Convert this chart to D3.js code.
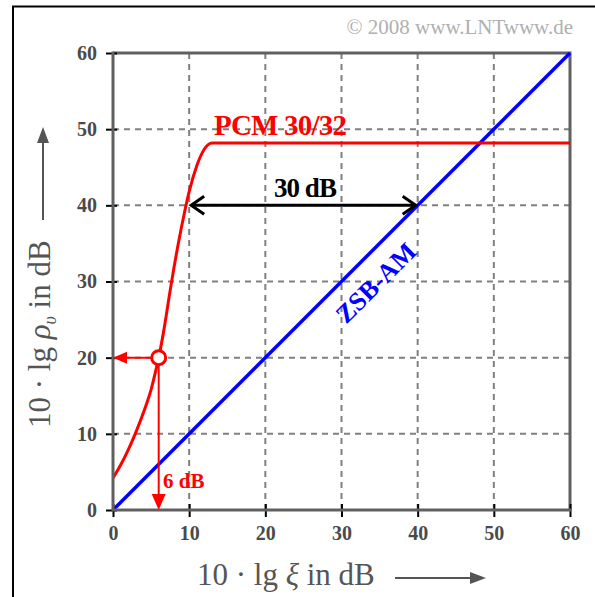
<!DOCTYPE html>
<html lang="de">
<head>
	<meta charset="UTF-8">
	<title>PCM 30/32 vs ZSB-AM</title>
	<script src="https://d3js.org/d3.v7.min.js"></script>
	<style type="text/css">
		body { margin: 0; background: #fff; }
		svg { display: block; font-family: "Liberation Serif", "DejaVu Serif", serif; }
		.tick text { font-family: "Liberation Serif", serif; font-weight: bold; font-size: 20px; fill: #4a4a4a; }
	</style>
</head>
<body>
<script type="text/javascript">

	// ticks
	var xTicks = [0, 10, 20, 30, 40, 50, 60];
	var yTicks = [0, 10, 20, 30, 40, 50, 60];

	// PCM 30/32 curve
	var pcmX = [0, 1, 2, 3, 4, 5, 5.5, 6, 6.5, 7, 7.5, 8, 8.5, 9, 9.5, 10, 11, 12, 13, 60];
	var pcmY = [4.2, 5.9, 7.9, 10.2, 12.8, 15.8, 17.8, 20, 22.6, 25.6, 28.8, 31.8, 34.6, 37.2, 39.6, 41.8, 45.2, 47.4, 48.2, 48.2];

	// ZSB-AM line
	var amX = [0, 60];
	var amY = [0, 60];

	// marked point and the 30 dB gap
	var markX = 6, markY = 20;
	var gapFrom = 10, gapTo = 40, gapLevel = 40;

	window.onload = function () {

		var W = 595, H = 597;
		var svg = d3.select('body').append('svg')
			.attr('width', W)
			.attr('height', H);

		var x = d3.scaleLinear().domain([0, 60]).range([113, 570]);
		var y = d3.scaleLinear().domain([0, 60]).range([510, 53]);

		// frame
		svg.append('path')
			.attr('d', 'M13,' + H + ' L13,6.5 L' + W + ',6.5')
			.style('fill', 'none').style('stroke', '#000').style('stroke-width', 2);

		// copyright
		svg.append('text')
			.attr('x', 573).attr('y', 34)
			.style('text-anchor', 'end')
			.style('font-size', '21px')
			.style('fill', '#b0b0b0')
			.text('\u00a9 2008 www.LNTwww.de');

		// grid
		var grid = svg.append('g')
			.style('stroke', '#808080').style('stroke-width', 2).style('stroke-dasharray', '6,5');
		grid.selectAll('.gx').data(xTicks.slice(1, -1)).enter().append('line')
			.attr('x1', function (d) { return x(d); }).attr('x2', function (d) { return x(d); })
			.attr('y1', y(0)).attr('y2', y(60));
		grid.selectAll('.gy').data(yTicks.slice(1, -1)).enter().append('line')
			.attr('y1', function (d) { return y(d); }).attr('y2', function (d) { return y(d); })
			.attr('x1', x(0)).attr('x2', x(60));

		// box top/right
		svg.append('path')
			.attr('d', 'M' + x(0) + ',' + y(60) + ' L' + x(60) + ',' + y(60) + ' L' + x(60) + ',' + y(0))
			.style('fill', 'none').style('stroke', '#606060').style('stroke-width', 3);

		// curves
		var pcm = pcmX.map(function (d, i) { return [d, pcmY[i]]; });
		var am = amX.map(function (d, i) { return [d, amY[i]]; });
		var line = d3.line()
			.x(function (d) { return x(d[0]); })
			.y(function (d) { return y(d[1]); })
			.curve(d3.curveMonotoneX);

		svg.append('path').datum(am).attr('d', line)
			.style('fill', 'none').style('stroke', '#0000ff').style('stroke-width', 3.5);
		svg.append('path').datum(pcm).attr('d', line)
			.style('fill', 'none').style('stroke', '#ff0000').style('stroke-width', 3);

		// axes
		var yAxis = svg.append('g')
			.attr('transform', 'translate(' + x(0) + ',0)')
			.call(d3.axisLeft(y).tickValues(yTicks).tickSize(7).tickPadding(9));
		var xAxis = svg.append('g')
			.attr('transform', 'translate(0,' + y(0) + ')')
			.call(d3.axisBottom(x).tickValues(xTicks).tickSize(7).tickPadding(9));
		[xAxis, yAxis].forEach(function (g) {
			g.select('.domain').remove();
			g.selectAll('.tick line').style('stroke', '#000').style('stroke-width', 2);
		});
		yAxis.selectAll('.tick line').attr('x1', 4);
		xAxis.selectAll('.tick line').attr('y1', -6);

		svg.append('path')
			.attr('d', 'M' + x(0) + ',' + (y(60) - 1.5) + ' L' + x(0) + ',' + y(0) + ' L' + (x(60) + 1.5) + ',' + y(0))
			.style('fill', 'none').style('stroke', '#606060').style('stroke-width', 3);

		// red arrows from the marked point
		var red = svg.append('g');
		var mx = x(markX), my = y(markY);
		red.append('line')
			.attr('x1', mx).attr('y1', my).attr('x2', x(0) + 10).attr('y2', my)
			.style('stroke', '#ff0000').style('stroke-width', 2);
		red.append('path')
			.attr('d', 'M' + x(0) + ',' + my + ' l14,-6 l0,12 z')
			.style('fill', '#ff0000');
		red.append('line')
			.attr('x1', mx).attr('y1', my).attr('x2', mx).attr('y2', y(0) - 10)
			.style('stroke', '#ff0000').style('stroke-width', 2);
		red.append('path')
			.attr('d', 'M' + mx + ',' + y(0) + ' l-7,-16 l14,0 z')
			.style('fill', '#ff0000');
		red.append('circle')
			.attr('cx', mx).attr('cy', my).attr('r', 7)
			.style('fill', '#fff').style('stroke', '#ff0000').style('stroke-width', 3);

		// 30 dB double arrow
		var gy = y(gapLevel), g1 = x(gapFrom), g2 = x(gapTo);
		var blk = svg.append('g').style('stroke', '#000').style('stroke-width', 3).style('fill', 'none');
		blk.append('line').attr('x1', g1 + 2).attr('y1', gy).attr('x2', g2 - 2).attr('y2', gy);
		blk.append('path').attr('d', 'M' + (g1 + 15) + ',' + (gy - 9) + ' L' + (g1 + 2) + ',' + gy + ' L' + (g1 + 15) + ',' + (gy + 9));
		blk.append('path').attr('d', 'M' + (g2 - 15) + ',' + (gy - 9) + ' L' + (g2 - 2) + ',' + gy + ' L' + (g2 - 15) + ',' + (gy + 9));

		// labels
		svg.append('text')
			.attr('x', 305).attr('y', 197)
			.style('text-anchor', 'middle').style('font-size', '27px').style('font-weight', 'bold')
			.style('letter-spacing', '-1px').style('fill', '#000')
			.text('30 dB');

		svg.append('text')
			.attr('x', 214).attr('y', 135)
			.style('font-size', '29px').style('font-weight', 'bold')
			.style('letter-spacing', '-0.8px').style('fill', '#ff0000')
			.text('PCM 30/32');

		svg.append('text')
			.attr('x', 163).attr('y', 488)
			.style('font-size', '21px').style('font-weight', 'bold').style('fill', '#ff0000')
			.text('6 dB');

		svg.append('text')
			.attr('transform', 'translate(' + 382 + ',' + 289 + ') rotate(-45)')
			.style('text-anchor', 'middle').style('font-size', '26px').style('font-weight', 'bold')
			.style('fill', '#0000ff')
			.text('ZSB-AM');

		// axis titles
		var xt = svg.append('text')
			.attr('x', 197).attr('y', 585)
			.style('font-size', '31px').style('fill', '#555');
		xt.append('tspan').text('10 \u00b7 lg ');
		xt.append('tspan').style('font-style', 'italic').text('\u03be');
		xt.append('tspan').text(' in dB');
		svg.append('line')
			.attr('x1', 395).attr('y1', 578).attr('x2', 472).attr('y2', 578)
			.style('stroke', '#555').style('stroke-width', 2);
		svg.append('path').attr('d', 'M486,578 l-16,-6 l0,12 z').style('fill', '#555');

		var yt = svg.append('text')
			.attr('transform', 'translate(50,428) rotate(-90)')
			.style('font-size', '31px').style('fill', '#555');
		yt.append('tspan').text('10 \u00b7 lg ');
		yt.append('tspan').style('font-style', 'italic').text('\u03c1');
		yt.append('tspan').style('font-style', 'italic').style('font-size', '18px').attr('dy', 6).text('\u03c5');
		yt.append('tspan').attr('dy', -6).text(' in dB');
		svg.append('line')
			.attr('x1', 43).attr('y1', 220).attr('x2', 43).attr('y2', 142)
			.style('stroke', '#555').style('stroke-width', 2);
		svg.append('path').attr('d', 'M43,127 l-6,16 l12,0 z').style('fill', '#555');
	};

</script>
</body>
</html>
